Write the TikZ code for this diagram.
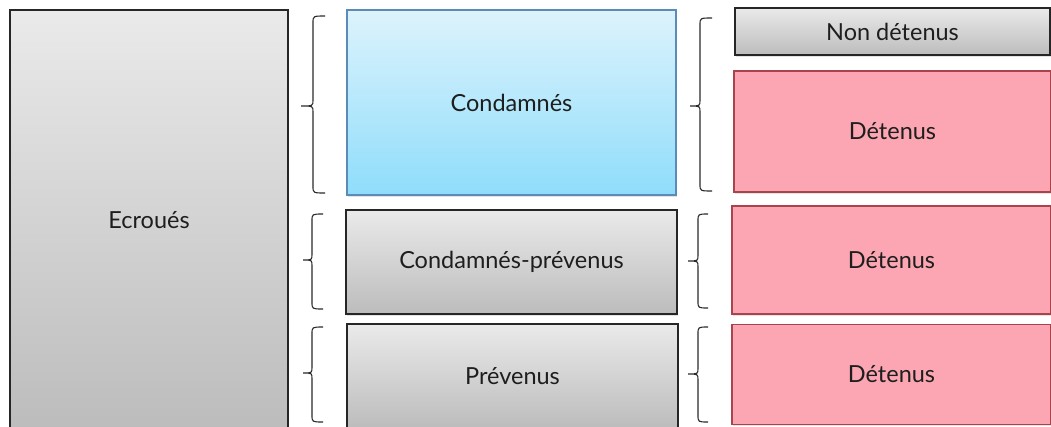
\documentclass[tikz,border=0pt]{standalone}
\usepackage{fontspec}
\setmainfont{Lato}
\usetikzlibrary{shadows}
\definecolor{gtop}{HTML}{EAEAEA}
\definecolor{gbot}{HTML}{BCBCBC}
\definecolor{btop}{HTML}{DDF3FC}
\definecolor{bbot}{HTML}{8FDDFB}
\definecolor{bline}{HTML}{5B8CB8}
\definecolor{pfill}{HTML}{FBA6B2}
\definecolor{pline}{HTML}{A9444C}
\definecolor{txt}{HTML}{1E1E1E}
\definecolor{brc}{HTML}{2A2A2A}
\newcommand\BraceShape[6]{% xend xmid xtip ytop ytip ybot
  \draw[bracestyle] (#1,#4) .. controls (#2,#4) .. (#2,#4+7) -- (#2,#5-6)
    .. controls (#2,#5) .. (#3,#5) .. controls (#2,#5) .. (#2,#5+6)
    -- (#2,#6-7) .. controls (#2,#6) .. (#1,#6);}
\begin{document}
\begin{tikzpicture}[x=1pt,y=-1pt,
  every node/.style={font=\fontsize{23.5}{28}\selectfont, text=txt},
  boxbase/.style={rectangle, inner sep=0pt, line width=1.05pt,
    drop shadow={opacity=0.22, shadow xshift=1.2pt, shadow yshift=-1.5pt}},
  graybox/.style={boxbase, draw=black!85, top color=gtop, bottom color=gbot},
  bluebox/.style={boxbase, draw=bline, top color=btop, bottom color=bbot},
  pinkbox/.style={boxbase, draw=pline, fill=pfill},
  bracestyle/.style={draw=brc, line width=1.1pt}]
\useasboundingbox (0,0) rectangle (1051,426);
\clip (0,0) rectangle (1051,426);
\fill[white] (0,0) rectangle (1051,426);
% column 1
\node[graybox, minimum width=278pt, minimum height=420pt] (ecr) at (149,220) {Ecroués};
% column 2
\node[bluebox, minimum width=329pt, minimum height=185pt] (cond) at (511.5,102.5) {Condamnés};
\node[graybox, minimum width=331pt, minimum height=104pt] (condprev) at (511.5,262) {Condamnés-prévenus};
\node[graybox, minimum width=331pt, minimum height=104pt] (prev) at (512.5,376) {Prévenus};
% column 3
\node[graybox, minimum width=315pt, minimum height=47pt] (nondet) at (892.5,31.5) {Non détenus};
\node[pinkbox, minimum width=317pt, minimum height=121pt] (det1) at (892.5,131.5) {Détenus};
\node[pinkbox, minimum width=319pt, minimum height=108pt] (det2) at (891.5,260) {Détenus};
\node[pinkbox, minimum width=319pt, minimum height=100pt] (det3) at (891.5,374.5) {Détenus};
% braces left
\BraceShape{325}{313}{301}{16}{106}{193}
\BraceShape{323}{312}{303}{214}{260}{309}
\BraceShape{323}{312}{303}{327}{373}{422}
% braces right
\BraceShape{712}{700}{690}{18}{106}{191}
\BraceShape{708}{698}{688}{214}{261}{308}
\BraceShape{708}{698}{688}{327}{374}{422}
\end{tikzpicture}
\end{document}
